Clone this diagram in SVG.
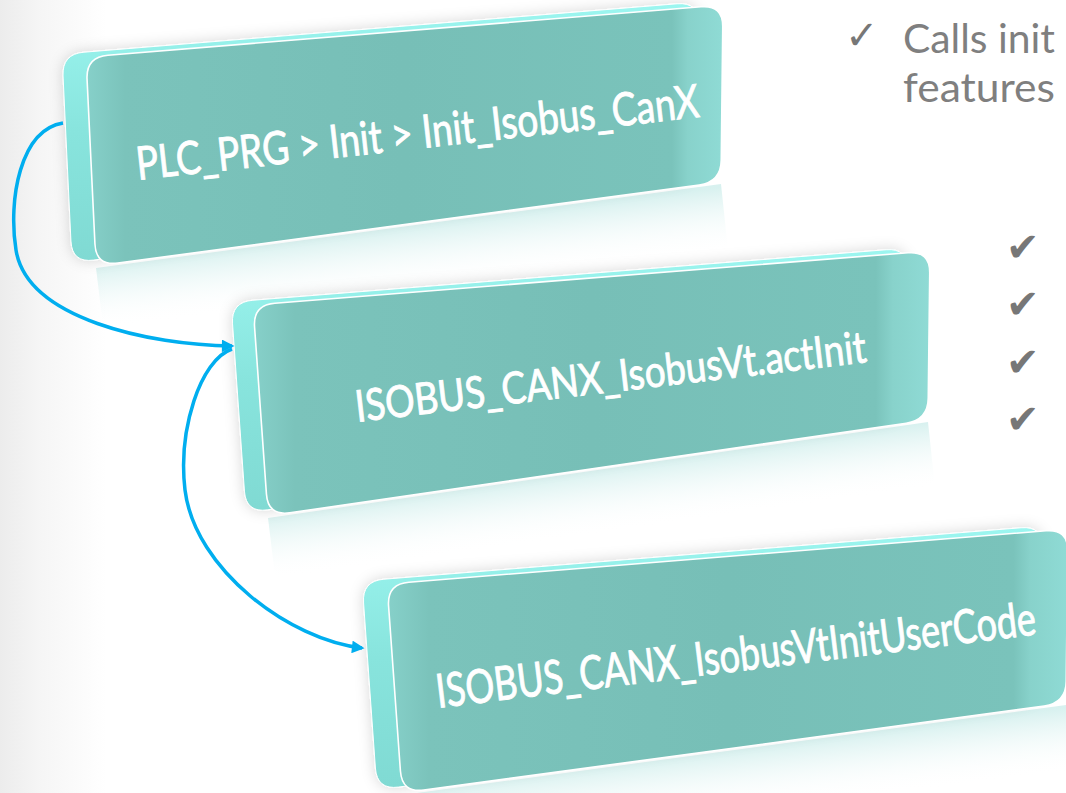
<svg xmlns="http://www.w3.org/2000/svg" width="1066" height="793" viewBox="0 0 1066 793">
  <defs>
    <style>
      .label { font-family: Lato, "Liberation Sans", sans-serif; font-size: 46px; font-weight: 400; fill: #ffffff; stroke: #ffffff; stroke-width: 0.9px; }
      .side { font-family: Lato, "Liberation Sans", sans-serif; font-size: 41px; fill: #7f7f7f; }
      .chk { font-family: "DejaVu Sans", sans-serif; font-size: 40px; fill: #777777; }
      .face { fill: url(#faceGrad); stroke: #ffffff; stroke-width: 1.6; }
      .slab { fill: url(#slabGrad); stroke: #ffffff; stroke-width: 1; filter: url(#shadow); }
      .conn { fill: none; stroke: #00AEEF; stroke-width: 3.5; marker-end: url(#arr); }
    </style>
    <linearGradient id="bg" x1="0" y1="0" x2="1" y2="0">
      <stop offset="0" stop-color="#ececec"/>
      <stop offset="0.04" stop-color="#f6f6f6"/>
      <stop offset="0.1" stop-color="#ffffff"/>
    </linearGradient>
    <linearGradient id="faceGrad" x1="0" y1="0" x2="1" y2="0">
      <stop offset="0" stop-color="#86d0c9"/>
      <stop offset="0.06" stop-color="#7bc3bb"/>
      <stop offset="0.5" stop-color="#77bfb7"/>
      <stop offset="0.92" stop-color="#7ac3bb"/>
      <stop offset="0.945" stop-color="#88d2cb"/>
      <stop offset="1" stop-color="#8fdbd5"/>
    </linearGradient>
    <linearGradient id="slabGrad" x1="0" y1="0" x2="0" y2="1">
      <stop offset="0" stop-color="#9cf6f0"/>
      <stop offset="0.5" stop-color="#88e4dd"/>
      <stop offset="1" stop-color="#80dad3"/>
    </linearGradient>
    <linearGradient id="ref1" gradientUnits="userSpaceOnUse" x1="410" y1="226" x2="418" y2="290">
      <stop offset="0" stop-color="#a8e0dc" stop-opacity="0.45"/>
      <stop offset="1" stop-color="#ffffff" stop-opacity="0"/>
    </linearGradient>
    <linearGradient id="ref2" gradientUnits="userSpaceOnUse" x1="597" y1="469" x2="606" y2="533">
      <stop offset="0" stop-color="#a8e0dc" stop-opacity="0.45"/>
      <stop offset="1" stop-color="#ffffff" stop-opacity="0"/>
    </linearGradient>
    <linearGradient id="ref3" gradientUnits="userSpaceOnUse" x1="733" y1="749" x2="741" y2="813">
      <stop offset="0" stop-color="#a8e0dc" stop-opacity="0.45"/>
      <stop offset="1" stop-color="#ffffff" stop-opacity="0"/>
    </linearGradient>
    <filter id="shadow" x="-10%" y="-20%" width="120%" height="140%">
      <feDropShadow dx="0" dy="0" stdDeviation="7" flood-color="#000000" flood-opacity="0.16"/>
    </filter>
    <marker id="arr" viewBox="0 0 10 10" refX="8" refY="5" markerWidth="4" markerHeight="3.6" orient="auto">
      <path d="M0,0 L10,5 L0,10 z" fill="#00AEEF"/>
    </marker>
    <path id="b1" d="M 107.93,55.21 L 701.07,6.79 Q 723,5 722.75,27 L 721.25,160 Q 721,182 699.2,184.93 L 117.8,263.07 Q 96,266 94.95,244.02 L 87.05,78.98 Q 86,57 107.93,55.21 Z"/>
    <path id="b2" d="M 274.9,303.25 L 908.1,252.75 Q 930,251 929.74,273 L 928.26,398 Q 928,420 906.2,423.17 L 289.8,512.83 Q 268,516 266.44,494.1 L 254.56,326.9 Q 253,305 274.9,303.25 Z"/>
    <path id="b3" d="M 408.93,582.23 L 1046.07,530.77 Q 1068,529 1067.75,551 L 1066.25,681 Q 1066,703 1044.2,705.95 L 423.8,790.05 Q 402,793 400.42,771.06 L 388.58,605.94 Q 387,584 408.93,582.23 Z"/>
  </defs>

  <rect x="0" y="0" width="1066" height="793" fill="url(#bg)"/>

  <!-- reflections -->
  <path d="M 96,268 L 721,184 L 728,250 L 104,334 Z" fill="url(#ref1)"/>
  <path d="M 268,518 L 928,422 L 935,488 L 276,584 Z" fill="url(#ref2)"/>
  <path d="M 402,795 L 1066,705 L 1066,780 L 410,860 Z" fill="url(#ref3)"/>

  <g id="node1">
    <use href="#b1" class="slab" transform="translate(-24,-3)"/>
    <use href="#b1" class="face"/>
    <text class="label" transform="translate(138,180) rotate(-6.4)" textLength="566" lengthAdjust="spacingAndGlyphs">PLC_PRG &gt; Init &gt; Init_Isobus_CanX</text>
  </g>

  <g id="node2">
    <use href="#b2" class="slab" transform="translate(-22,-3)"/>
    <use href="#b2" class="face"/>
    <text class="label" style="font-size:44px" transform="translate(357,422) rotate(-6.7)" textLength="514" lengthAdjust="spacingAndGlyphs">ISOBUS_CANX_IsobusVt.actInit</text>
  </g>

  <g id="node3">
    <use href="#b3" class="slab" transform="translate(-25,-3)"/>
    <use href="#b3" class="face"/>
    <text class="label" style="font-size:47px" transform="translate(438,708) rotate(-7)" textLength="604" lengthAdjust="spacingAndGlyphs">ISOBUS_CANX_IsobusVtInitUserCode</text>
  </g>

  <g id="connectors">
    <path class="conn" d="M 63,123 C 20,130 8,200 16,250 C 27,319 150,345 232,346"/>
    <path class="conn" d="M 232,349 C 200,360 178,430 185,490 C 195,570 290,640 362,648"/>
  </g>

  <g id="notes">
    <text class="chk" x="845" y="49">✓</text>
    <text class="side" x="903" y="53" textLength="152" lengthAdjust="spacingAndGlyphs">Calls init</text>
    <text class="side" x="903" y="102" textLength="152" lengthAdjust="spacingAndGlyphs">features</text>
    <text class="chk" x="1006" y="261">✔</text>
    <text class="chk" x="1006" y="318">✔</text>
    <text class="chk" x="1006" y="376">✔</text>
    <text class="chk" x="1006" y="433">✔</text>
  </g>
</svg>
